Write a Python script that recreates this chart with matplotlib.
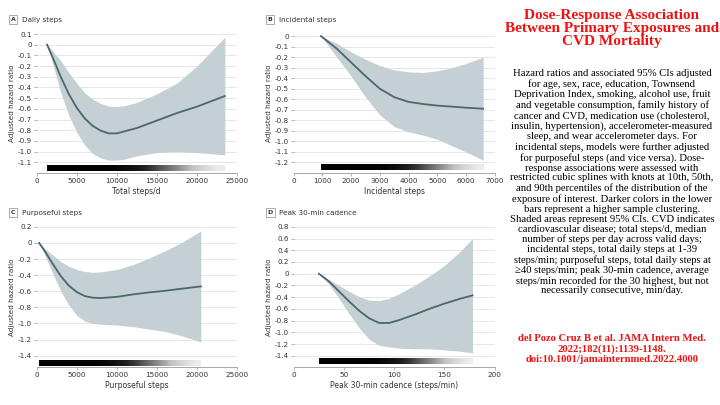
import matplotlib
matplotlib.use("Agg")
import matplotlib.pyplot as plt
import numpy as np

# Panel A
a_x = [1300, 2000, 3000, 4000, 5000, 6000, 7000, 8000, 9000, 10000, 11000, 12500, 15000, 17500, 20000, 23500]
a_mean = [0, -0.12, -0.3, -0.46, -0.59, -0.69, -0.76, -0.805, -0.83, -0.83, -0.81, -0.78, -0.71, -0.64, -0.58, -0.48]
a_up = [0, -0.06, -0.15, -0.26, -0.36, -0.45, -0.51, -0.55, -0.575, -0.58, -0.57, -0.54, -0.46, -0.36, -0.2, 0.07]
a_lo = [0, -0.18, -0.45, -0.66, -0.82, -0.94, -1.02, -1.06, -1.08, -1.08, -1.07, -1.04, -1.01, -1.0, -1.01, -1.03]
# Panel B
b_x = [950, 1500, 2000, 2500, 3000, 3500, 4000, 4500, 5000, 5500, 6000, 6600]
b_mean = [0, -0.12, -0.25, -0.38, -0.5, -0.58, -0.625, -0.645, -0.66, -0.67, -0.68, -0.69]
b_up = [0, -0.07, -0.15, -0.22, -0.28, -0.32, -0.34, -0.345, -0.33, -0.3, -0.26, -0.2]
b_lo = [0, -0.2, -0.38, -0.58, -0.75, -0.86, -0.91, -0.94, -0.98, -1.04, -1.1, -1.18]
# Panel C
c_x = [300, 1000, 2000, 3000, 4000, 5000, 6000, 7000, 8000, 10000, 12000, 14000, 16000, 18000, 20500]
c_mean = [0, -0.1, -0.26, -0.41, -0.53, -0.61, -0.66, -0.68, -0.685, -0.67, -0.64, -0.615, -0.595, -0.57, -0.54]
c_up = [0, -0.07, -0.15, -0.23, -0.29, -0.33, -0.355, -0.365, -0.36, -0.33, -0.27, -0.19, -0.1, 0.0, 0.15]
c_lo = [0, -0.15, -0.38, -0.6, -0.77, -0.9, -0.97, -1.0, -1.01, -1.02, -1.04, -1.07, -1.1, -1.15, -1.23]
# Panel D
d_x = [25, 35, 45, 55, 65, 75, 85, 95, 105, 120, 135, 150, 165, 178]
d_mean = [0, -0.13, -0.3, -0.47, -0.63, -0.76, -0.84, -0.84, -0.79, -0.7, -0.6, -0.51, -0.43, -0.37]
d_up = [0, -0.1, -0.2, -0.3, -0.39, -0.45, -0.46, -0.42, -0.34, -0.2, -0.04, 0.14, 0.37, 0.6]
d_lo = [0, -0.18, -0.42, -0.68, -0.92, -1.12, -1.22, -1.25, -1.27, -1.28, -1.28, -1.3, -1.32, -1.35]
# density strip darkness (left to right)
density = [1, 1, 1, 1, 1, 0.98, 0.95, 0.9, 0.8, 0.65, 0.5, 0.35, 0.25, 0.15]

panels = [
    dict(x=a_x, m=a_mean, u=a_up, l=a_lo, lab="A", title="Daily steps", xl="Total steps/d",
         xlim=(0, 25000), xt=[0, 5000, 10000, 15000, 20000, 25000],
         ylim=(-1.2, 0.1), yt=np.round(np.arange(0.1, -1.15, -0.1), 1), strip=-1.155, sh=0.05,
         pos=[0.051, 0.573, 0.278, 0.343]),
    dict(x=b_x, m=b_mean, u=b_up, l=b_lo, lab="B", title="Incidental steps", xl="Incidental steps",
         xlim=(0, 7000), xt=list(range(0, 7001, 1000)),
         ylim=(-1.3, 0.02), yt=np.round(np.arange(0, -1.25, -0.1), 1), strip=-1.25, sh=0.05,
         pos=[0.408, 0.573, 0.279, 0.343]),
    dict(x=c_x, m=c_mean, u=c_up, l=c_lo, lab="C", title="Purposeful steps", xl="Purposeful steps",
         xlim=(0, 25000), xt=[0, 5000, 10000, 15000, 20000, 25000],
         ylim=(-1.54, 0.2), yt=np.round(np.arange(0.2, -1.45, -0.2), 1), strip=-1.49, sh=0.065,
         pos=[0.051, 0.094, 0.278, 0.346]),
    dict(x=d_x, m=d_mean, u=d_up, l=d_lo, lab="D", title="Peak 30-min cadence",
         xl="Peak 30-min cadence (steps/min)",
         xlim=(0, 200), xt=[0, 50, 100, 150, 200],
         ylim=(-1.59, 0.8), yt=np.round(np.arange(0.8, -1.45, -0.2), 1), strip=-1.5, sh=0.09,
         pos=[0.408, 0.094, 0.279, 0.346]),
]

fig = plt.figure(figsize=(7.2, 4.05), dpi=100)
fig.patch.set_facecolor("white")

def fmt_tick(v):
    if abs(v) < 1e-9:
        return "0"
    return "{:.1f}".format(v)

for p in panels:
    ax = fig.add_axes(p["pos"])
    ax.fill_between(p["x"], p["l"], p["u"], color="#c5d0d5", lw=0, zorder=2)
    ax.plot(p["x"], p["m"], color="#4a6670", lw=1.3, zorder=3, solid_joinstyle="round")
    grad = np.array(density)[None, :]
    ax.imshow(grad, cmap="Greys", vmin=0, vmax=1, aspect="auto", interpolation="bilinear",
              extent=(p["x"][0], p["x"][-1], p["strip"] - p["sh"] / 2, p["strip"] + p["sh"] / 2),
              zorder=3)
    ax.set_xlim(*p["xlim"])
    ax.set_ylim(*p["ylim"])
    ax.set_xticks(p["xt"])
    ax.set_xticklabels([f"{v}" for v in p["xt"]], fontsize=5.2, color="#333333")
    ax.set_yticks(p["yt"])
    ax.set_yticklabels([fmt_tick(v) for v in p["yt"]], fontsize=5.2, color="#333333")
    ax.yaxis.grid(True, color="#e3e3e3", lw=0.6, zorder=0)
    ax.set_axisbelow(True)
    for s in ["top", "right", "left"]:
        ax.spines[s].set_visible(False)
    ax.spines["bottom"].set_color("#999999")
    ax.spines["bottom"].set_linewidth(0.6)
    ax.tick_params(length=2, width=0.5, color="#999999", pad=1.5)
    ax.set_xlabel(p["xl"], fontsize=5.5, color="#333333", labelpad=2)
    ax.set_ylabel("Adjusted hazard ratio", fontsize=5.2, color="#333333", labelpad=2)
    x0, y0 = p["pos"][0], p["pos"][1] + p["pos"][3]
    fig.text(x0 - 0.033, y0 + 0.035, p["lab"], fontsize=4.5, fontweight="bold", color="#333333",
             ha="center", va="center",
             bbox=dict(boxstyle="square,pad=0.3", fc="white", ec="#888888", lw=0.5))
    fig.text(x0 - 0.02, y0 + 0.035, p["title"], fontsize=5.2, color="#333333", va="center")

serif = ["Liberation Serif", "DejaVu Serif"]
fig.text(0.85, 0.978, "Dose-Response Association\nBetween Primary Exposures and\nCVD Mortality",
         ha="center", va="top", fontsize=11, fontweight="bold", color="#ee1111",
         family=serif, linespacing=1.0)
body = ("Hazard ratios and associated 95% CIs adjusted\n"
        "for age, sex, race, education, Townsend\n"
        "Deprivation Index, smoking, alcohol use, fruit\n"
        "and vegetable consumption, family history of\n"
        "cancer and CVD, medication use (cholesterol,\n"
        "insulin, hypertension), accelerometer-measured\n"
        "sleep, and wear accelerometer days. For\n"
        "incidental steps, models were further adjusted\n"
        "for purposeful steps (and vice versa). Dose-\n"
        "response associations were assessed with\n"
        "restricted cubic splines with knots at 10th, 50th,\n"
        "and 90th percentiles of the distribution of the\n"
        "exposure of interest. Darker colors in the lower\n"
        "bars represent a higher sample clustering.\n"
        "Shaded areas represent 95% CIs. CVD indicates\n"
        "cardiovascular disease; total steps/d, median\n"
        "number of steps per day across valid days;\n"
        "incidental steps, total daily steps at 1-39\n"
        "steps/min; purposeful steps, total daily steps at\n"
        "\u226540 steps/min; peak 30-min cadence, average\n"
        "steps/min recorded for the 30 highest, but not\n"
        "necessarily consecutive, min/day.")
fig.text(0.85, 0.83, body, ha="center", va="top", fontsize=7.7, color="black",
         family=serif, linespacing=1.13)
fig.text(0.85, 0.175, "del Pozo Cruz B et al. JAMA Intern Med.\n2022;182(11):1139-1148.\ndoi:10.1001/jamainternmed.2022.4000",
         ha="center", va="top", fontsize=7.7, fontweight="bold", color="#ee1111",
         family=serif, linespacing=1.15)

fig.savefig("out.png", dpi=100)
